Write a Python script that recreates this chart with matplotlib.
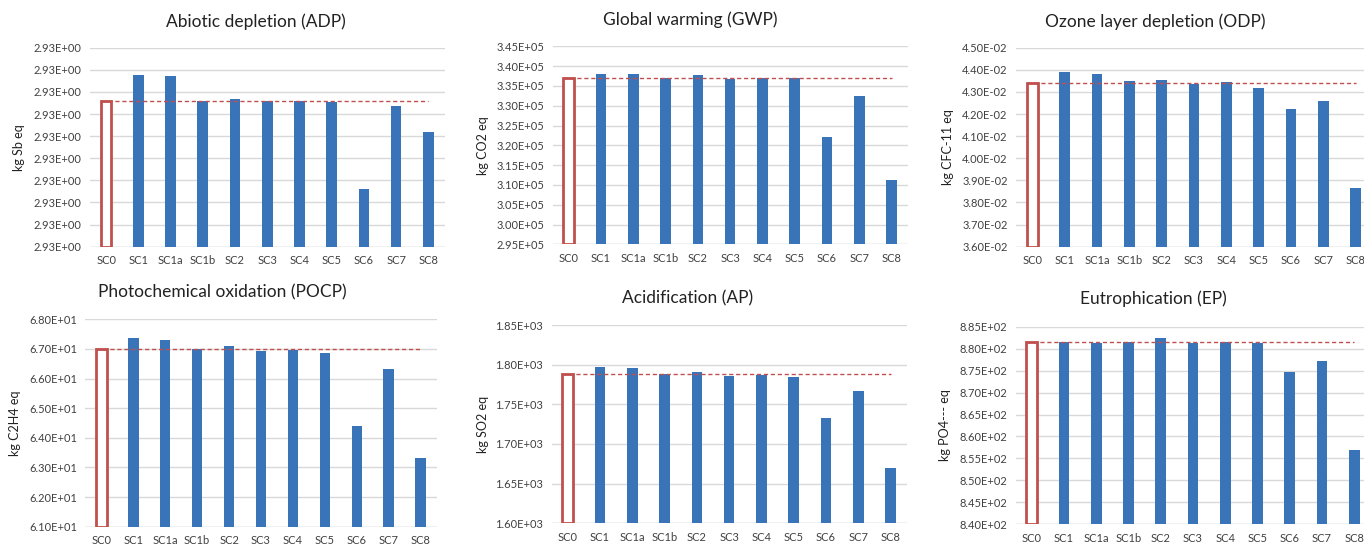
import numpy as np
import matplotlib
matplotlib.use("Agg")
import matplotlib.pyplot as plt
from matplotlib.ticker import FormatStrFormatter

plt.rcParams['font.family'] = ['Lato', 'DejaVu Sans']

scenarios = ["SC0", "SC1", "SC1a", "SC1b", "SC2", "SC3", "SC4", "SC5", "SC6", "SC7", "SC8"]

# values
adp = [2.930660, 2.930777, 2.930774, 2.930660, 2.930667, 2.930660, 2.930660,
       2.930653, 2.930260, 2.930637, 2.930520]
gwp = [3.370e5, 3.380e5, 3.380e5, 3.370e5, 3.3785e5, 3.368e5, 3.370e5,
       3.369e5, 3.221e5, 3.3245e5, 3.1124e5]
odp = [4.342e-2, 4.389e-2, 4.381e-2, 4.348e-2, 4.356e-2, 4.335e-2, 4.345e-2,
       4.318e-2, 4.223e-2, 4.259e-2, 3.864e-2]
pocp = [67.00, 67.36, 67.31, 67.01, 67.09, 66.93, 66.97, 66.85, 64.40, 66.32, 63.32]
ap = [1788, 1797, 1796, 1788, 1791, 1786, 1787, 1785, 1733, 1767, 1670]
ep = [881.6, 881.6, 881.4, 881.6, 882.4, 881.3, 881.6, 881.3, 874.7, 877.3, 856.9]

titles = ["Abiotic depletion (ADP)", "Global warming (GWP)", "Ozone layer depletion (ODP)",
          "Photochemical oxidation (POCP)", "Acidification (AP)", "Eutrophication (EP)"]
ylabels = ["kg Sb eq", "kg CO2 eq", "kg CFC-11 eq", "kg C2H4 eq", "kg SO2 eq", "kg PO4--- eq"]
series = [adp, gwp, odp, pocp, ap, ep]
yticks = [np.linspace(2.9300, 2.9309, 10), np.arange(2.95e5, 3.451e5, 5e3),
          np.arange(3.60e-2, 4.501e-2, 1e-3), np.arange(61.0, 68.01, 1.0),
          np.arange(1600, 1851, 50), np.arange(840, 885.1, 5)]

W, H = 1364, 547
# axes boxes in pixels: left, top, right, bottom
boxes = [(90, 47.7, 444.5, 246.7), (552.5, 46.3, 907.8, 244.3), (1016, 47.7, 1372, 246.7),
         (85.4, 319.3, 436.6, 526.7), (551.5, 325, 906.8, 523.3), (1015.5, 326.7, 1370.5, 524.3)]
title_pos = [(256, 22), (690, 20), (1155, 22), (222, 292), (688, 298), (1153, 299)]
ylab_x = [19, 483, 948, 15, 483, 945]

blue = "#3A74B8"
red = "#C0504D"

fig = plt.figure(figsize=(W / 100, H / 100), dpi=100)
x = np.arange(len(scenarios))

for i in range(6):
    l, t, r, b = boxes[i]
    ax = fig.add_axes([l / W, 1 - b / H, (r - l) / W, (b - t) / H])
    vals = series[i]
    ticks = yticks[i]
    lo, hi = ticks[0], ticks[-1]
    ax.bar(x[1:], np.array(vals[1:]) - lo, bottom=lo, width=0.33, color=blue, zorder=3)
    ax.bar(x[0], vals[0] - lo, bottom=lo, width=0.33, facecolor="white",
           edgecolor=red, linewidth=2, zorder=3)
    ax.hlines(vals[0], -0.17, 10, colors=red, linestyles=(0, (3, 2)), linewidth=1, zorder=4)
    ax.set_ylim(lo, hi)
    ax.set_xlim(-0.5, 10.5)
    ax.set_yticks(ticks)
    ax.yaxis.set_major_formatter(FormatStrFormatter('%.2E'))
    ax.set_xticks(x)
    ax.set_xticklabels(scenarios)
    ax.tick_params(length=0, labelsize=8, colors="#404040", pad=6)
    ax.grid(axis="y", color="#D9D9D9", linewidth=1, zorder=0)
    for s in ax.spines.values():
        s.set_visible(False)
    ax.axhline(lo, color="#D9D9D9", linewidth=1, zorder=1)
    tx, ty = title_pos[i]
    fig.text(tx / W, 1 - ty / H, titles[i], ha="center", va="center", fontsize=12.5, color="#222222")
    fig.text(ylab_x[i] / W, 1 - ((t + b) / 2) / H, ylabels[i], rotation=90,
             ha="center", va="center", fontsize=9, color="#222222")

fig.savefig("out.png", dpi=100, facecolor="white")
